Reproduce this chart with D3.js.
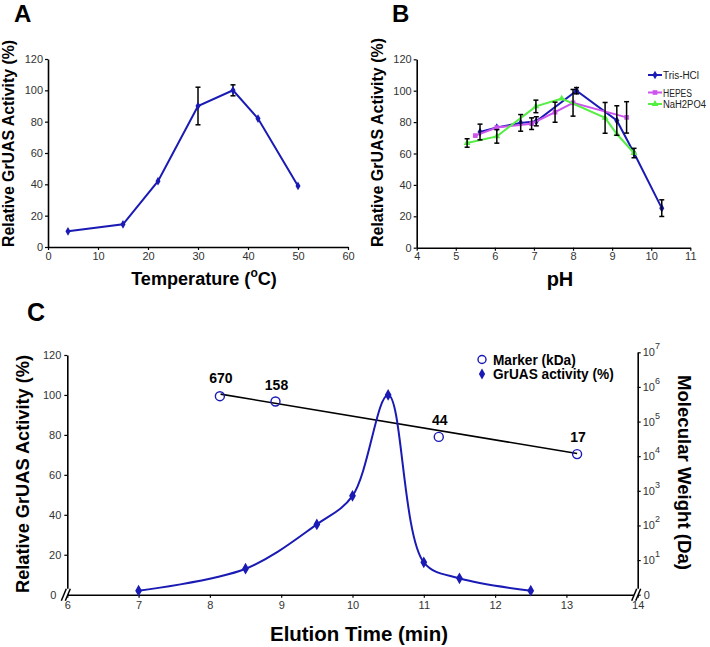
<!DOCTYPE html>
<html><head><meta charset="utf-8">
<script src="https://cdn.jsdelivr.net/npm/d3@7"></script>
<style>
body{margin:0;background:#fff;}
svg{display:block;font-family:"Liberation Sans",Arial,sans-serif;}
</style></head>
<body>
<script>
// ---------- DATA ----------
// Panel A: temperature profile
const tempX = [4, 15, 22, 30, 37, 42, 50];
const tempY = [10, 14.5, 42, 90, 100, 82, 39];
const tempErr = [0, 0, 0, 12, 3.5, 0, 0];
const tempXTicks = [0, 10, 20, 30, 40, 50, 60];
const activityTicks = [0, 20, 40, 60, 80, 100, 120];

// Panel B: pH profile
const trisX = [5.62, 6.05, 6.66, 7.06, 8.09, 9.12, 9.56, 10.27];
const trisY = [73.7, 76.5, 79.5, 80.5, 100, 81, 60.3, 25.2];
const trisErr = [5, 0, 5.3, 2.9, 2, 9.4, 3, 5.3];
const hepesX = [5.5, 6.05, 6.94, 7.54, 8.0, 9.37];
const hepesY = [71.4, 76.5, 79, 86.3, 92.3, 83];
const hepesErr = [0, 0, 3.7, 6.4, 8.5, 10];
const phosX = [5.29, 6.05, 7.05, 7.71, 8.82, 9.12, 9.56];
const phosY = [66.7, 70.9, 90, 95, 82.7, 72.4, 60.3];
const phosErr = [2.7, 4.3, 4, 0, 9.8, 0, 0];
const phXTicks = [4, 5, 6, 7, 8, 9, 10, 11];
const bufferNames = ["Tris-HCl", "HEPES", "NaH2PO4"];

// Panel C: gel filtration
const elutionX = [7, 8.5, 9.5, 10, 10.5, 11, 11.5, 12.5];
const elutionY = [2, 13, 35.2, 49.5, 100, 16.2, 8.2, 2];
const markerX = [8.14, 8.92, 11.21, 13.15];
const markerMW = [5.4e5, 3.8e5, 3.6e4, 1.15e4];   // position on MW axis (Da)
const markerLabels = ["670", "158", "44", "17"];
const fitX = [8.15, 13.15];
const fitMW = [6.2e5, 1.19e4];
const timeTicks = [6, 7, 8, 9, 10, 11, 12, 13, 14];
const mwTicks = [1, 10, 100, 1e3, 1e4, 1e5, 1e6, 1e7];
const legendC = ["Marker (kDa)", "GrUAS activity (%)"];

// ---------- DRAW ----------
const W = 710, H = 647;
const svg = d3.select("body").append("svg").attr("width", W).attr("height", H);
const BLUE = "#1a1ab4", VIOLET = "#cc55ee", GREEN = "#55ee44";

function styleAxis(g) {
  g.selectAll(".domain").attr("stroke", "#000").attr("stroke-width", 1.6);
  g.selectAll(".tick line").attr("stroke", "#000").attr("stroke-width", 1.2);
  g.selectAll(".tick text").attr("fill", "#333").style("font-size", "11px")
    .style("font-family", '"Liberation Sans",Arial,sans-serif');
}
function fitLen(sel, w) {
  sel.attr("textLength", w).attr("lengthAdjust", "spacingAndGlyphs");
  return sel;
}
function diamond(g, x, y, s, col) {
  g.append("path").attr("d", d3.symbol(d3.symbolDiamond, s)())
    .attr("transform", `translate(${x},${y})`).attr("fill", col);
}
function errBar(g, x, y0, y1) {
  g.append("line").attr("x1", x).attr("x2", x).attr("y1", y0).attr("y2", y1)
    .attr("stroke", "#000").attr("stroke-width", 1.5);
  [y0, y1].forEach(y => g.append("line").attr("x1", x - 2.5).attr("x2", x + 2.5)
    .attr("y1", y).attr("y2", y).attr("stroke", "#000").attr("stroke-width", 1.5));
}

// ===== Panel A =====
{
  const x = d3.scaleLinear().domain([0, 60]).range([48, 348]);
  const y = d3.scaleLinear().domain([0, 120]).range([247, 59]);
  const g = svg.append("g");
  g.append("g").attr("transform", `translate(0,${y(0)})`)
    .call(d3.axisBottom(x).tickValues(tempXTicks).tickSize(3).tickSizeOuter(0).tickPadding(2)).call(styleAxis);
  g.append("g").attr("transform", `translate(${x(0)},0)`)
    .call(d3.axisLeft(y).tickValues(activityTicks).tickSize(3).tickSizeOuter(0).tickPadding(2)).call(styleAxis);
  const line = d3.line().x((d, i) => x(tempX[i])).y(d => y(d));
  g.append("path").datum(tempY).attr("d", line).attr("fill", "none").attr("stroke", BLUE).attr("stroke-width", 2);
  tempY.forEach((v, i) => {
    if (tempErr[i]) errBar(g, x(tempX[i]), y(v + tempErr[i]), y(v - tempErr[i]));
    diamond(g, x(tempX[i]), y(v), 22, BLUE);
  });
  g.append("text").attr("x", 14).attr("y", 22).style("font-size", "24px").style("font-weight", "bold").text("A");
  const t = g.append("text").attr("x", 204).attr("y", 285).attr("text-anchor", "middle")
    .style("font-size", "20px").style("font-weight", "bold");
  t.append("tspan").text("Temperature (");
  t.append("tspan").text("o").style("font-size", "12px").attr("dy", -8);
  t.append("tspan").text("C)").attr("dy", 8);
  const L = t.node().getComputedTextLength();
  if (L > 0) t.style("font-size", (20 * 145 / L) + "px");
  fitLen(g.append("text").attr("transform", `translate(14,${(247 + 40) / 2}) rotate(-90)`).attr("text-anchor", "middle")
    .style("font-size", "17px").style("font-weight", "bold").text("Relative GrUAS Activity (%)"), 207);
}

// ===== Panel B =====
{
  const x = d3.scaleLinear().domain([4, 11]).range([416.7, 690.3]);
  const y = d3.scaleLinear().domain([0, 120]).range([247.7, 59.3]);
  const g = svg.append("g");
  g.append("g").attr("transform", `translate(0,${y(0)})`)
    .call(d3.axisBottom(x).tickValues(phXTicks).tickFormat(d3.format("d")).tickSize(3).tickSizeOuter(0).tickPadding(2)).call(styleAxis);
  g.append("g").attr("transform", `translate(${x(4)},0)`)
    .call(d3.axisLeft(y).tickValues(activityTicks).tickSize(3).tickSizeOuter(0).tickPadding(2)).call(styleAxis);
  const series = [
    {xs: trisX, ys: trisY, es: trisErr, col: BLUE, sym: d3.symbolDiamond, s: 22, w: 36},
    {xs: hepesX, ys: hepesY, es: hepesErr, col: VIOLET, sym: d3.symbolSquare, s: 22, w: 29},
    {xs: phosX, ys: phosY, es: phosErr, col: GREEN, sym: d3.symbolTriangle, s: 20, w: 43}
  ];
  series.forEach(sr => {
    const line = d3.line().x((d, i) => x(sr.xs[i])).y(d => y(d));
    g.append("path").datum(sr.ys).attr("d", line).attr("fill", "none").attr("stroke", sr.col).attr("stroke-width", 2);
    sr.ys.forEach((v, i) => g.append("path").attr("d", d3.symbol(sr.sym, sr.s)())
      .attr("transform", `translate(${x(sr.xs[i])},${y(v)})`).attr("fill", sr.col));
  });
  series.forEach(sr => sr.ys.forEach((v, i) => {
    if (sr.es[i]) errBar(g, x(sr.xs[i]), y(v + sr.es[i]), y(v - sr.es[i]));
  }));
  const ly = [75, 92.5, 104];
  series.forEach((sr, i) => {
    g.append("line").attr("x1", 648).attr("x2", 662).attr("y1", ly[i]).attr("y2", ly[i]).attr("stroke", sr.col).attr("stroke-width", 2);
    g.append("path").attr("d", d3.symbol(sr.sym, sr.s)()).attr("transform", `translate(655,${ly[i]})`).attr("fill", sr.col);
    fitLen(g.append("text").attr("x", 663).attr("y", ly[i] + 4).style("font-size", "10px").attr("fill", "#222").text(bufferNames[i]), sr.w);
  });
  g.append("text").attr("x", 392).attr("y", 22).style("font-size", "24px").style("font-weight", "bold").text("B");
  g.append("text").attr("x", 560).attr("y", 286).attr("text-anchor", "middle")
    .style("font-size", "20px").style("font-weight", "bold").text("pH");
  fitLen(g.append("text").attr("transform", `translate(383,${(247 + 38) / 2}) rotate(-90)`).attr("text-anchor", "middle")
    .style("font-size", "17px").style("font-weight", "bold").text("Relative GrUAS Activity (%)"), 209);
}

// ===== Panel C =====
{
  const x = d3.scaleLinear().domain([6, 14]).range([67.3, 637.7]);
  const y = d3.scaleLinear().domain([0, 120]).range([594.7, 355]);
  const yR = d3.scaleLog().domain([1, 1e7]).range([594.7, 352.3]);
  const g = svg.append("g");
  g.append("g").attr("transform", `translate(0,${y(0)})`)
    .call(d3.axisBottom(x).tickValues(timeTicks).tickSize(3).tickSizeOuter(0).tickPadding(4)).call(styleAxis);
  const ax = g.append("g").attr("transform", `translate(${x(6)},0)`)
    .call(d3.axisLeft(y).tickValues(activityTicks).tickSize(3).tickSizeOuter(0).tickPadding(3)).call(styleAxis);
  ax.selectAll(".tick").filter(d => d === 0).select("text").attr("x", -11);
  const axR = g.append("g").attr("transform", `translate(${x(14)},0)`)
    .call(d3.axisRight(yR).tickValues(mwTicks).tickFormat(() => "").tickSize(3).tickSizeOuter(0).tickPadding(2)).call(styleAxis);
  axR.selectAll(".tick").each(function (d) {
    const t = d3.select(this).select("text");
    if (d === 1) { t.attr("x", 6).text("0"); return; }
    t.text("");
    t.append("tspan").text("10");
    t.append("tspan").text(Math.round(Math.log10(d))).attr("dy", -7).style("font-size", "9px");
  });
  [x(6), x(14)].forEach(bx => {
    const by = y(0);
    g.append("path").attr("d", `M${bx - 6},${by + 6}L${bx - 1},${by - 6}L${bx + 3},${by - 6}L${bx - 2},${by + 6}Z`).attr("fill", "#fff");
    [[-6, -1], [-2, 3]].forEach(([a, b]) => g.append("line")
      .attr("x1", bx + a).attr("y1", by + 6).attr("x2", bx + b).attr("y2", by - 6)
      .attr("stroke", "#000").attr("stroke-width", 1.5));
  });
  g.append("path").datum(fitMW).attr("d", d3.line().x((d, i) => x(fitX[i])).y(d => yR(d)))
    .attr("stroke", "#000").attr("stroke-width", 1.6).attr("fill", "none");
  markerMW.forEach((v, i) => {
    g.append("circle").attr("cx", x(markerX[i])).attr("cy", yR(v)).attr("r", 4.5)
      .attr("fill", "none").attr("stroke", BLUE).attr("stroke-width", 1.4);
  });
  const lblDy = [-13, -11, -12, -12];
  markerMW.forEach((v, i) => {
    g.append("text").attr("x", x(markerX[i]) + 1).attr("y", yR(v) + lblDy[i]).attr("text-anchor", "middle")
      .style("font-size", "14px").style("font-weight", "bold").text(markerLabels[i]);
  });
  g.append("path").datum(elutionY)
    .attr("d", d3.line().x((d, i) => x(elutionX[i])).y(d => y(d)).curve(d3.curveCatmullRom.alpha(0.5)))
    .attr("fill", "none").attr("stroke", BLUE).attr("stroke-width", 2);
  elutionY.forEach((v, i) => diamond(g, x(elutionX[i]), y(v), 40, BLUE));
  g.append("circle").attr("cx", 482).attr("cy", 359.5).attr("r", 4).attr("fill", "none").attr("stroke", BLUE).attr("stroke-width", 1.4);
  diamond(g, 482, 374, 34, BLUE);
  const lw = [82.7, 120.7];
  legendC.forEach((s, i) => fitLen(g.append("text").attr("x", 493).attr("y", 364.5 + i * 14.5)
    .style("font-size", "14.5px").style("font-weight", "bold").text(s), lw[i]));
  g.append("text").attr("x", 27).attr("y", 321).style("font-size", "25px").style("font-weight", "bold").text("C");
  fitLen(g.append("text").attr("x", 359).attr("y", 641).attr("text-anchor", "middle")
    .style("font-size", "20px").style("font-weight", "bold").text("Elution Time (min)"), 178);
  fitLen(g.append("text").attr("transform", `translate(29,474) rotate(-90)`).attr("text-anchor", "middle")
    .style("font-size", "19px").style("font-weight", "bold").text("Relative GrUAS Activity (%)"), 238);
  fitLen(g.append("text").attr("transform", `translate(678,472.5) rotate(90)`).attr("text-anchor", "middle")
    .style("font-size", "19px").style("font-weight", "bold").text("Molecular Weight (Da)"), 195);
}
</script>
</body></html>
